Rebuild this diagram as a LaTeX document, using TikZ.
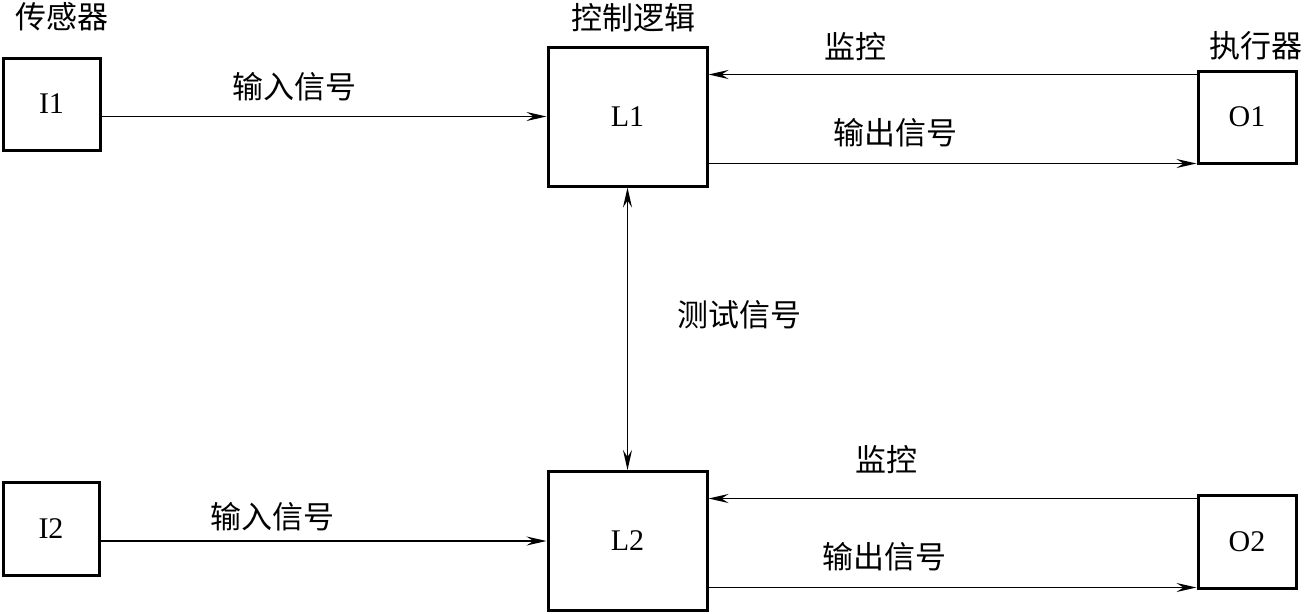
\documentclass[tikz,border=0pt]{standalone}
\usepackage{fontspec}
\setmainfont{Liberation Serif}
\newfontfamily\cjk{Noto Sans CJK SC}
\usepackage{tikz}
\usetikzlibrary{arrows.meta}
\def\boxline{3pt}
\def\sigline{1.3pt}
\tikzset{
	unit/.style={draw,rectangle,line width=\boxline,inner sep=0pt,font=\fontsize{30}{34}\selectfont},
	tip/.tip={Stealth[length=20pt,width=9pt,inset=7pt]},
	sig/.style={line width=\sigline,-tip},
	tag/.style={font=\cjk\fontsize{31}{34}\selectfont,inner sep=0pt}
}
\newcommand{\unitnode}[5]{\node[unit,minimum width=#4,minimum height=#5] (#3) at (#1,#2) {#3};}

\begin{document}
\begin{tikzpicture}[x=1pt,y=-1pt]
\useasboundingbox (0,0) rectangle (1305,613);
\unitnode{51.5}{104}{I1}{97pt}{92pt}
\unitnode{51}{528.5}{I2}{96pt}{93pt}
\unitnode{627.5}{116.5}{L1}{159pt}{139pt}
\unitnode{627.5}{541}{L2}{159pt}{139pt}
\unitnode{1247}{117}{O1}{98pt}{92pt}
\unitnode{1247}{541.5}{O2}{98pt}{93pt}

% group titles
\node[tag] (sensor) at (62,17) {传感器};
\node[tag] (logic) at (633,18) {控制逻辑};
\node[tag] (actor) at (1256,46) {执行器};

% upper channel
\draw[sig] (I1.east |- L1.west) -- (L1.west);
\draw[sig] ([yshift=-5pt]O1.north west) -- ([yshift=-5pt]O1.north west -| L1.east);
\draw[sig] ([yshift=1pt]O1.south west -| L1.east) -- ([yshift=1pt]O1.south west);
\node[tag] (in1) at (294,87) {输入信号};
\node[tag] (mon1) at (855,47) {监控};
\node[tag] (out1) at (895,133) {输出信号};

% test link
\draw[sig,tip-tip] (L1.south) -- (L2.north);
\node[tag] (test) at (739,315) {测试信号};

% lower channel
\draw[sig] (I2.east |- L2.west) -- (L2.west);
\draw[sig] ([yshift=-5pt]O2.north west) -- ([yshift=-5pt]O2.north west -| L2.east);
\draw[sig] ([yshift=2pt]O2.south west -| L2.east) -- ([yshift=2pt]O2.south west);
\node[tag] (in2) at (272,517) {输入信号};
\node[tag] (mon2) at (886,460) {监控};
\node[tag] (out2) at (884,557) {输出信号};
\end{tikzpicture}
\end{document}
